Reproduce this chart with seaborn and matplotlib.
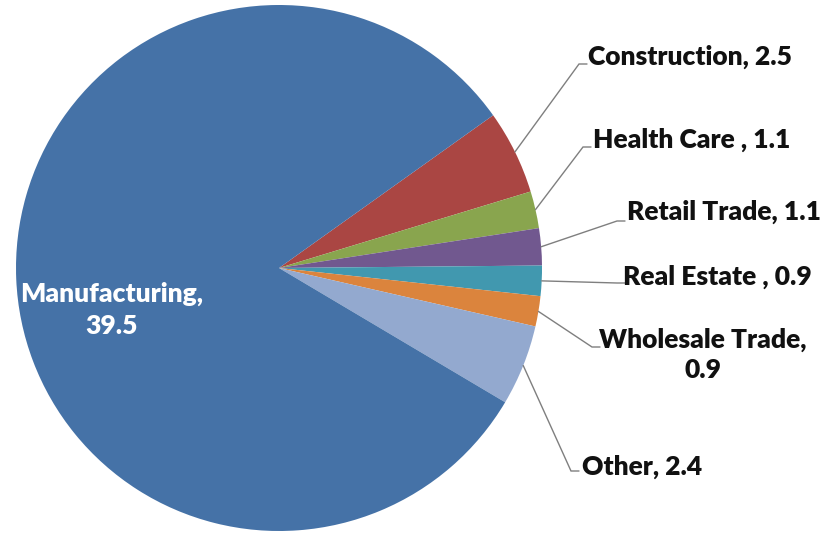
import matplotlib.pyplot as plt
import numpy as np
import seaborn as sns

# Data
categories = ["Construction", "Health Care ", "Retail Trade", "Real Estate ",
              "Wholesale Trade", "Other", "Manufacturing"]
values = [2.5, 1.1, 1.1, 0.9, 0.9, 2.4, 39.5]
colors = ["#AA4643", "#89A54E", "#71588F", "#4198AF", "#DB843D", "#93A9CF", "#4572A7"]

sns.set_theme(style="white")
plt.rcParams["font.family"] = ["Lato", "DejaVu Sans"]

W, H = 825, 534
fig = plt.figure(figsize=(8.25, 5.34), dpi=100)
ax = fig.add_axes([0, 0, 1, 1])

wedges, _ = ax.pie(values, colors=colors, startangle=35.5, counterclock=False,
                   center=(279, H - 268), radius=263,
                   wedgeprops=dict(linewidth=0), frame=True)
ax.set_xlim(0, W)
ax.set_ylim(0, H)
ax.set_aspect("equal")
ax.axis("off")

# label layout in pixels from top-left: text anchor, leader elbow
text_pos = [(588, 57), (593, 140), (627, 212), (623, 277), (703, 355), (582, 467)]
elbows = [(579, 64), (583, 147), (617, 221), (617, 283), (592, 347), (571, 471)]
wrap = [False, False, False, False, True, False]

fs = 19
for i, (w, (tx, ty), (ex, ey)) in enumerate(zip(wedges[:-1], text_pos, elbows)):
    mid = np.deg2rad((w.theta1 + w.theta2) / 2)
    sx = w.center[0] + w.r * np.cos(mid)
    sy = w.center[1] + w.r * np.sin(mid)
    ax.plot([sx, ex, ex + 8], [sy, H - ey, H - ey], color="#7f7f7f", lw=1, solid_joinstyle="miter")
    sep = ",\n" if wrap[i] else ", "
    label = f"{categories[i]}{sep}{values[i]}"
    ax.text(tx, H - ty, label, fontsize=fs, fontweight="heavy", color="#111111",
            ha="center" if wrap[i] else "left", va="center", multialignment="center",
            linespacing=1.3)

ax.text(112, H - 310, f"{categories[-1]},\n{values[-1]}", fontsize=fs, fontweight="heavy",
        color="white", ha="center", va="center", multialignment="center", linespacing=1.37)

plt.savefig("out.png", dpi=100, facecolor="white")
